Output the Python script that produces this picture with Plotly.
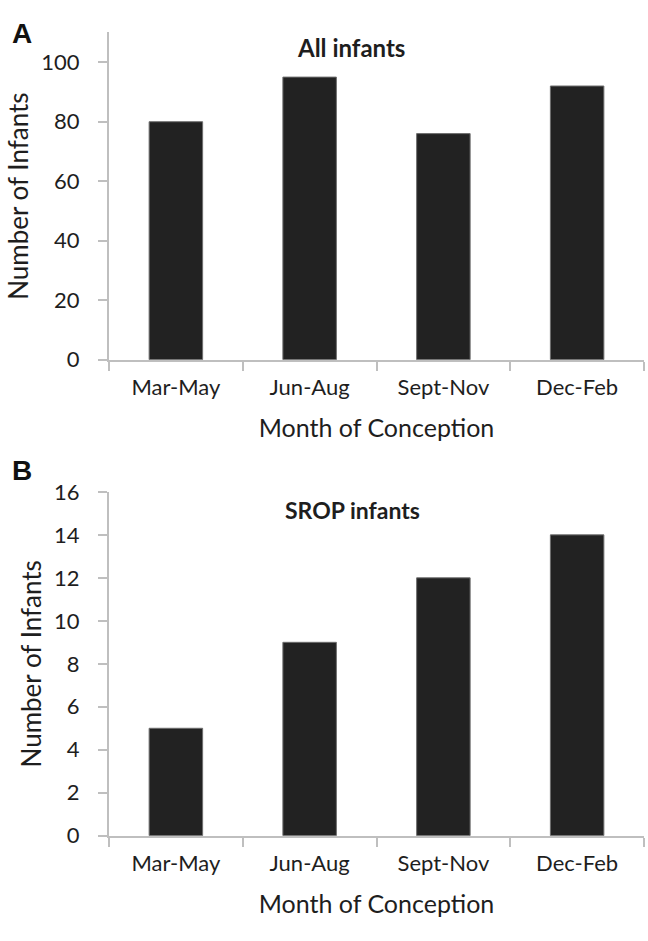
import plotly.graph_objects as go

categories = ["Mar-May", "Jun-Aug", "Sept-Nov", "Dec-Feb"]
all_infants = [80, 95, 76, 92]
srop_infants = [5, 9, 12, 14]
y_ticks_a = [0, 20, 40, 60, 80, 100]
y_ticks_b = [0, 2, 4, 6, 8, 10, 12, 14, 16]

W, H = 648, 941
FONT = "Lato, Open Sans, sans-serif"
TXT = "#1e1e1e"
AXC = "#bfbfbf"

def px(x):
    return x / W

def py(y):
    return 1 - y / H

fig = go.Figure()
fig.add_trace(go.Bar(x=categories, y=all_infants, xaxis="x", yaxis="y",
                     marker=dict(color="#222222", line=dict(color="#6e6e6e", width=1)),
                     showlegend=False))
fig.add_trace(go.Bar(x=categories, y=srop_infants, xaxis="x2", yaxis="y2",
                     marker=dict(color="#222222", line=dict(color="#6e6e6e", width=1)),
                     showlegend=False))

xcommon = dict(type="category", showline=True, linecolor=AXC, linewidth=2,
               ticks="outside", tickson="boundaries", ticklen=9, tickcolor=AXC, tickwidth=2,
               showgrid=False, zeroline=False, tickfont=dict(family=FONT, size=22, color=TXT),
               ticklabelstandoff=7,
               title=dict(text="Month of Conception", font=dict(family=FONT, size=25, color=TXT), standoff=20))
ycommon = dict(showline=True, linecolor=AXC, linewidth=2, ticks="outside", ticklen=9,
               tickcolor=AXC, tickwidth=2, showgrid=False, zeroline=False,
               tickfont=dict(family=FONT, size=22, color=TXT), ticklabelstandoff=14)

ytitle = dict(text="Number of Infants", font=dict(family=FONT, size=26, color=TXT), standoff=5)

fig.update_layout(
    width=W, height=H, margin=dict(l=0, r=0, t=0, b=0),
    paper_bgcolor="white", plot_bgcolor="white", bargap=0.6,
    xaxis=dict(domain=[px(109), px(644)], anchor="y", **xcommon),
    yaxis=dict(domain=[py(356), py(19)], anchor="x", range=[0, 110], tickvals=y_ticks_a,
               title=ytitle, **ycommon),
    xaxis2=dict(domain=[px(109), px(644)], anchor="y2", **xcommon),
    yaxis2=dict(domain=[py(846), py(492)], anchor="x2", range=[0, 16], tickvals=y_ticks_b,
                title=ytitle, **ycommon),
    annotations=[
        dict(text="<b>A</b>", x=px(22), y=py(20), xref="paper", yref="paper", xanchor="center",
             yanchor="middle", showarrow=False, font=dict(family="Liberation Sans, Arial", size=28, color="#111")),
        dict(text="<b>B</b>", x=px(22), y=py(470), xref="paper", yref="paper", xanchor="center",
             yanchor="middle", showarrow=False, font=dict(family="Liberation Sans, Arial", size=28, color="#111")),
        dict(text="<b>All infants</b>", x=px(351), y=py(34), xref="paper", yref="paper",
             xanchor="center", yanchor="middle", showarrow=False,
             font=dict(family=FONT, size=24, color=TXT)),
        dict(text="<b>SROP infants</b>", x=px(352), y=py(511), xref="paper", yref="paper",
             xanchor="center", yanchor="middle", showarrow=False,
             font=dict(family=FONT, size=23, color=TXT)),
    ],
)

fig.write_html("out.html", config={"displayModeBar": False},
               post_script="document.body.style.margin='0';document.body.style.overflow='hidden';")
